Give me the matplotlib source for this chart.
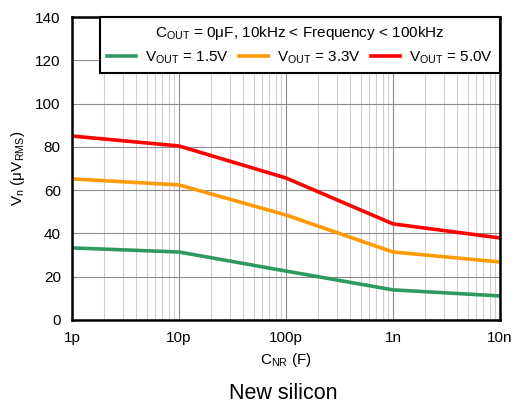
import matplotlib
matplotlib.use("Agg")
import matplotlib.pyplot as plt
from matplotlib.ticker import LogLocator, FixedLocator, NullFormatter

plt.rcParams["font.family"] = ["Liberation Sans", "DejaVu Sans"]
plt.rcParams["mathtext.fontset"] = "custom"
plt.rcParams["mathtext.rm"] = "Liberation Sans"
plt.rcParams["mathtext.it"] = "Liberation Sans"

# data
cnr = [1e-12, 1e-11, 1e-10, 1e-9, 1e-8]
vout_15 = [33.3, 31.4, 22.6, 13.9, 11.1]
vout_33 = [65.2, 62.4, 48.5, 31.4, 26.8]
vout_50 = [85.0, 80.4, 65.6, 44.4, 37.9]
x_ticks = [1e-12, 1e-11, 1e-10, 1e-9, 1e-8]
x_labels = ["1p", "10p", "100p", "1n", "10n"]

fig = plt.figure(figsize=(5.16, 4.05), dpi=100)
ax = fig.add_axes([0.1395, 0.21, 0.8295, 0.748])

ax.plot(cnr, vout_15, color="#2e9a62", lw=2.6, label=r"V$_{\mathrm{OUT}}$ = 1.5V")
ax.plot(cnr, vout_33, color="#ff9a00", lw=2.6, label=r"V$_{\mathrm{OUT}}$ = 3.3V")
ax.plot(cnr, vout_50, color="#ff0000", lw=2.6, label=r"V$_{\mathrm{OUT}}$ = 5.0V")

ax.set_xscale("log")
ax.set_xlim(1e-12, 1e-8)
ax.set_ylim(0, 140)
ax.xaxis.set_major_locator(FixedLocator(x_ticks))
ax.set_xticklabels(x_labels)
ax.xaxis.set_minor_locator(LogLocator(base=10, subs=range(2, 10), numticks=20))
ax.xaxis.set_minor_formatter(NullFormatter())
ax.set_yticks(range(0, 141, 20))

ax.grid(True, which="major", color="#8c8c8c", lw=0.8)
ax.grid(True, which="minor", axis="x", color="#cfcfcf", lw=0.8)
ax.tick_params(which="both", length=0, labelsize=11, pad=8)
for s in ax.spines.values():
    s.set_linewidth(1.8)
    s.set_color("black")

ax.set_xlabel(r"C$_{\mathrm{NR}}$ (F)", fontsize=11, labelpad=4)
ax.set_ylabel(r"V$_{\mathrm{n}}$ ($\mu$V$_{\mathrm{RMS}}$)", fontsize=11, labelpad=6)

leg = ax.legend(loc="upper right", ncol=3, fontsize=11, frameon=True, fancybox=False,
                title=r"C$_{\mathrm{OUT}}$ = 0$\mu$F, 10kHz < Frequency < 100kHz",
                title_fontsize=11, borderaxespad=0, handlelength=1.9,
                columnspacing=0.65, handletextpad=0.6, borderpad=0.45)
leg.get_frame().set_edgecolor("black")
leg.get_frame().set_linewidth(1.5)
leg.get_frame().set_alpha(1)

fig.text(0.548, 0.015, "New silicon", ha="center", fontsize=15.5)

fig.savefig("out.png", dpi=100)
